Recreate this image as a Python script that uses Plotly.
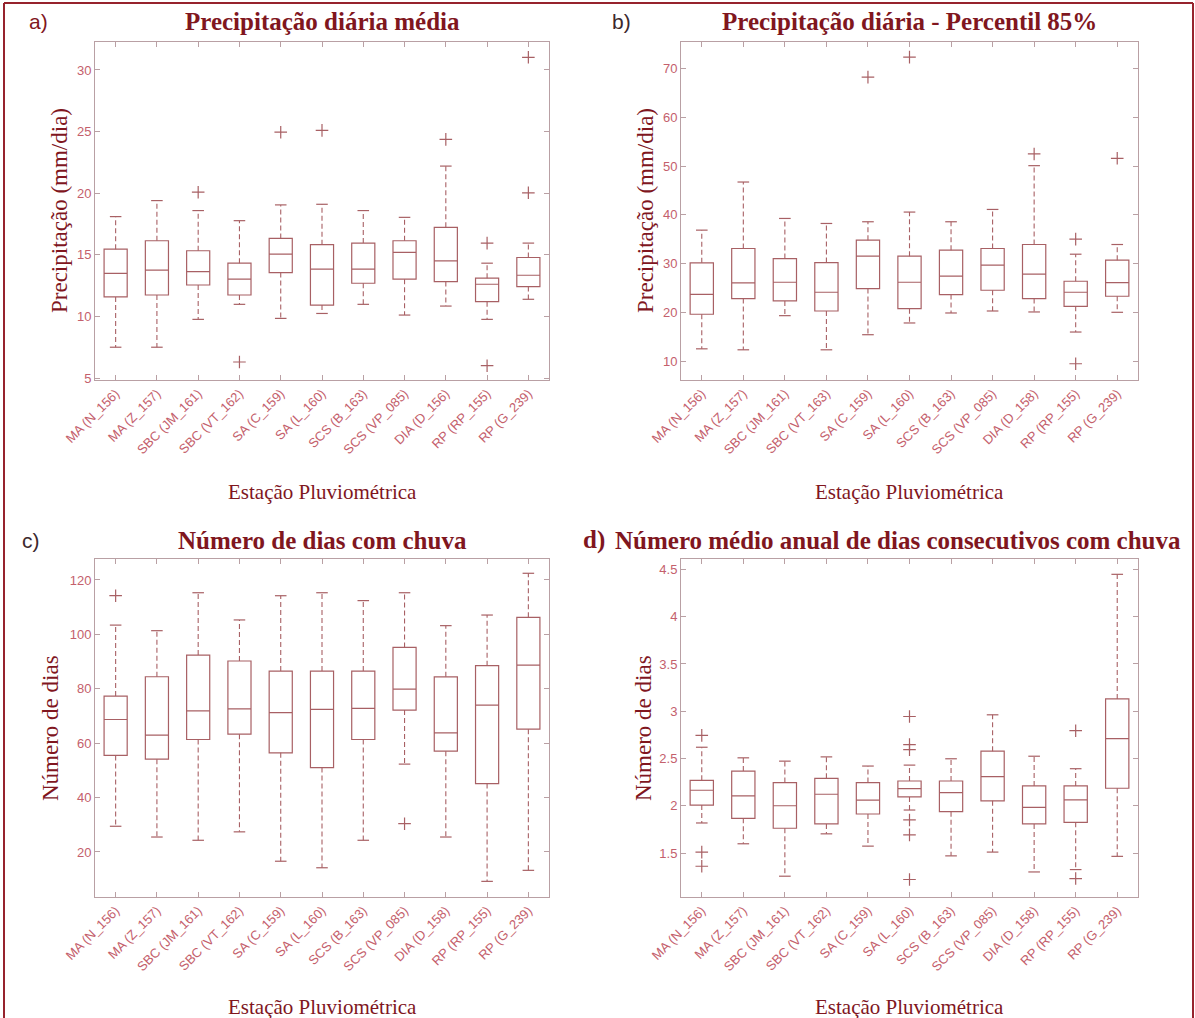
import plotly.graph_objects as go

W, H = 1195, 1018

# ---- station names (tick labels) per panel ----
labels_a = ["MA (N_156)", "MA (Z_157)", "SBC (JM_161)", "SBC (VT_162)", "SA (C_159)", "SA (L_160)",
            "SCS (B_163)", "SCS (VP_085)", "DIA (D_156)", "RP (RP_155)", "RP (G_239)"]
labels_b = ["MA (N_156)", "MA (Z_157)", "SBC (JM_161)", "SBC (VT_163)", "SA (C_159)", "SA (L_160)",
            "SCS (B_163)", "SCS (VP_085)", "DIA (D_158)", "RP (RP_155)", "RP (G_239)"]
labels_c = ["MA (N_156)", "MA (Z_157)", "SBC (JM_161)", "SBC (VT_162)", "SA (C_159)", "SA (L_160)",
            "SCS (B_163)", "SCS (VP_085)", "DIA (D_158)", "RP (RP_155)", "RP (G_239)"]
labels_d = labels_c

# ---- a) mean daily precipitation (mm/dia) ----
a_lo = [7.5, 7.5, 9.76, 10.98, 9.84, 10.24, 10.98, 10.11, 10.84, 9.76, 11.39]
a_q1 = [11.58, 11.74, 12.55, 11.74, 13.56, 10.92, 12.69, 13.02, 12.83, 11.2, 12.42]
a_med = [13.5, 13.75, 13.64, 13.02, 15.05, 13.83, 13.83, 15.19, 14.51, 12.61, 13.34]
a_q3 = [15.46, 16.14, 15.33, 14.32, 16.33, 15.82, 15.95, 16.14, 17.23, 13.1, 14.78]
a_hi = [18.1, 19.4, 18.59, 17.77, 19.05, 19.1, 18.59, 18.04, 22.2, 14.32, 15.95]
a_out_x = [3, 4, 5, 6, 9, 10, 10, 11, 11]
a_out_y = [20.08, 6.3, 24.95, 25.1, 24.37, 15.95, 6.0, 31.03, 20.03]

# ---- b) daily precipitation, 85th percentile (mm/dia) ----
b_lo = [12.5, 12.3, 19.31, 12.3, 15.4, 17.81, 19.86, 20.27, 20.07, 15.95, 20.0]
b_q1 = [19.6, 22.81, 22.33, 20.27, 24.87, 20.75, 23.64, 24.53, 22.81, 21.23, 23.3]
b_med = [23.7, 26.04, 26.17, 24.12, 31.52, 26.17, 27.41, 29.67, 27.82, 24.12, 26.1]
b_q3 = [30.15, 33.1, 31.04, 30.22, 34.81, 31.52, 32.76, 33.1, 33.92, 26.38, 30.7]
b_hi = [36.87, 46.75, 39.27, 38.24, 38.59, 40.58, 38.59, 41.12, 50.11, 31.93, 33.92]
b_out_x = [5, 6, 9, 10, 10, 11]
b_out_y = [68.29, 72.4, 52.51, 35.02, 9.44, 51.62]

# ---- c) number of rainy days ----
c_lo = [29.45, 25.5, 24.3, 27.4, 16.6, 14.2, 24.3, 52.3, 25.5, 9.2, 13.25]
c_q1 = [55.5, 54.1, 61.35, 63.3, 56.44, 51.04, 61.35, 72.15, 57.06, 45.15, 65.15]
c_med = [68.7, 62.94, 71.9, 72.64, 71.2, 72.4, 72.8, 79.9, 63.8, 74.0, 88.7]
c_q3 = [77.3, 84.42, 92.4, 90.2, 86.5, 86.5, 86.5, 95.2, 84.4, 88.5, 106.26]
c_hi = [103.4, 101.35, 115.3, 105.3, 114.2, 115.3, 112.4, 115.3, 103.2, 107.1, 122.45]
c_out_x = [1, 8]
c_out_y = [114.2, 30.4]

# ---- d) mean annual number of consecutive rainy days ----
d_lo = [1.818, 1.598, 1.255, 1.703, 1.573, 1.955, 1.47, 1.51, 1.3, 1.325, 1.465]
d_q1 = [2.007, 1.867, 1.762, 1.808, 1.913, 2.094, 1.937, 2.052, 1.808, 1.825, 2.185]
d_med = [2.164, 2.105, 2.0, 2.122, 2.06, 2.182, 2.14, 2.308, 1.983, 2.063, 2.71]
d_q3 = [2.269, 2.367, 2.245, 2.29, 2.245, 2.262, 2.262, 2.577, 2.21, 2.21, 3.13]
d_hi = [2.619, 2.507, 2.472, 2.517, 2.42, 2.43, 2.497, 2.962, 2.524, 2.392, 4.448]
d_out_x = [1, 1, 1, 6, 6, 6, 6, 6, 6, 10, 10]
d_out_y = [2.745, 1.51, 1.36, 2.944, 2.647, 2.594, 1.85, 1.692, 1.22, 2.794, 1.23]

titles = ["Precipitação diária média", "Precipitação diária - Percentil 85%",
          "Número de dias com chuva", "Número médio anual de dias consecutivos com chuva"]
ytitles = ["Precipitação (mm/dia)", "Precipitação (mm/dia)", "Número de dias", "Número de dias"]
xtitle = "Estação Pluviométrica"
tags = ["a)", "b)", "c)", "d)"]

BOX = "rgb(168,96,100)"
AXIS = "rgb(185,160,164)"
TICKTXT = "rgb(196,96,108)"
DARK = "rgb(128,22,30)"
SERIF = "Liberation Serif, Times New Roman, serif"
SANS = "Liberation Sans, Arial, sans-serif"

BOX_W = 0.56
CAP_HALF = 0.14

# plot-area pixel boxes: (left, right, top, bottom)
areas = [(95, 549, 42, 380), (681, 1138, 42, 380), (95, 549, 559, 897), (681, 1138, 559, 897)]
yranges = [[4.84, 32.27], [6.1, 75.5], [3.45, 127.7], [1.035, 4.61]]
dticks = [5, 10, 20, 0.5]

panels = [
    (labels_a, a_lo, a_q1, a_med, a_q3, a_hi, a_out_x, a_out_y),
    (labels_b, b_lo, b_q1, b_med, b_q3, b_hi, b_out_x, b_out_y),
    (labels_c, c_lo, c_q1, c_med, c_q3, c_hi, c_out_x, c_out_y),
    (labels_d, d_lo, d_q1, d_med, d_q3, d_hi, d_out_x, d_out_y),
]

fig = go.Figure()
layout = {}
annotations = []

for k, (labels, lo, q1, med, q3, hi, ox, oy) in enumerate(panels):
    sfx = "" if k == 0 else str(k + 1)
    xa, ya = "x" + sfx, "y" + sfx
    pos = list(range(1, len(labels) + 1))

    # boxes (quartiles + median)
    fig.add_trace(go.Box(
        x=pos, q1=q1, median=med, q3=q3, lowerfence=q1, upperfence=q3,
        width=BOX_W, whiskerwidth=0, boxpoints=False,
        fillcolor="rgba(0,0,0,0)", line=dict(color=BOX, width=1.2),
        xaxis=xa, yaxis=ya, showlegend=False, hoverinfo="skip"))

    # dashed whiskers
    wx, wy = [], []
    for p, a, b, c, d in zip(pos, lo, q1, q3, hi):
        wx += [p, p, None, p, p, None]
        wy += [c, d, None, b, a, None]
    fig.add_trace(go.Scatter(x=wx, y=wy, mode="lines", line=dict(color=BOX, width=1.1, dash="5px,3px"),
                             xaxis=xa, yaxis=ya, showlegend=False, hoverinfo="skip"))

    # whisker caps
    cx, cy = [], []
    for p, a, d in zip(pos, lo, hi):
        cx += [p - CAP_HALF, p + CAP_HALF, None, p - CAP_HALF, p + CAP_HALF, None]
        cy += [d, d, None, a, a, None]
    fig.add_trace(go.Scatter(x=cx, y=cy, mode="lines", line=dict(color=BOX, width=1.2),
                             xaxis=xa, yaxis=ya, showlegend=False, hoverinfo="skip"))

    # outliers
    fig.add_trace(go.Scatter(x=ox, y=oy, mode="markers",
                             marker=dict(symbol="cross-thin", size=9, line=dict(color=BOX, width=1.2)),
                             xaxis=xa, yaxis=ya, showlegend=False, hoverinfo="skip"))

    l, r, t, b = areas[k]
    common = dict(showline=True, linecolor=AXIS, linewidth=1, mirror="ticks", ticks="inside",
                  ticklen=5, tickcolor=AXIS, showgrid=False, zeroline=False, automargin=False)
    layout["xaxis" + sfx] = dict(common, domain=[l / W, r / W], range=[0.5, len(labels) + 0.5],
                                 tickmode="array", tickvals=pos, ticktext=labels, tickangle=-45,
                                 tickfont=dict(family=SANS, size=13, color=TICKTXT), anchor=ya)
    layout["yaxis" + sfx] = dict(common, domain=[1 - b / H, 1 - t / H], range=yranges[k],
                                 dtick=dticks[k], tick0=0,
                                 tickfont=dict(family=SANS, size=13, color=TICKTXT), anchor=xa)

    cxp = (l + r) / 2
    title_x = cxp if k != 3 else 898
    title_y = 22 if k < 2 else 540
    annotations.append(dict(text="<b>%s</b>" % titles[k], x=title_x / W, y=1 - title_y / H,
                            xref="paper", yref="paper", showarrow=False, xanchor="center", yanchor="middle",
                            font=dict(family=SERIF, size=25, color=DARK)))
    annotations.append(dict(text=xtitle, x=cxp / W, y=1 - (492 if k < 2 else 1007) / H,
                            xref="paper", yref="paper", showarrow=False, xanchor="center", yanchor="middle",
                            font=dict(family=SERIF, size=21, color=DARK)))
    ytx = [59, 645, 50, 643][k]
    annotations.append(dict(text=ytitles[k], x=ytx / W, y=1 - ((t + b) / 2) / H, textangle=-90,
                            xref="paper", yref="paper", showarrow=False, xanchor="center", yanchor="middle",
                            font=dict(family=SERIF, size=23, color=DARK)))
    tag_pos = [(38, 22), (621, 22), (31, 540), (594, 540)][k]
    if k == 3:
        tag_font = dict(family=SERIF, size=25, color=DARK)
        tag_text = "<b>d)</b>"
    elif k == 0:
        tag_font = dict(family=SANS, size=21, color=DARK)
        tag_text = tags[k]
    else:
        tag_font = dict(family=SANS, size=21, color="rgb(60,40,45)")
        tag_text = tags[k]
    annotations.append(dict(text=tag_text, x=tag_pos[0] / W, y=1 - tag_pos[1] / H,
                            xref="paper", yref="paper", showarrow=False, xanchor="center", yanchor="middle",
                            font=tag_font))

# outer frame (left, top, right edges)
frame = dict(type="line", xref="paper", yref="paper", line=dict(color="rgb(150,35,45)", width=2))
shapes = [
    dict(frame, x0=4 / W, x1=4 / W, y0=0, y1=1 - 3 / H),
    dict(frame, x0=4 / W, x1=1 - 2 / W, y0=1 - 3 / H, y1=1 - 3 / H),
    dict(frame, x0=1 - 2 / W, x1=1 - 2 / W, y0=0, y1=1 - 3 / H),
]

fig.update_layout(
    width=W, height=H, margin=dict(l=0, r=0, t=0, b=0),
    paper_bgcolor="white", plot_bgcolor="white",
    annotations=annotations, shapes=shapes, showlegend=False, **layout)

fig.write_html("out.html")
